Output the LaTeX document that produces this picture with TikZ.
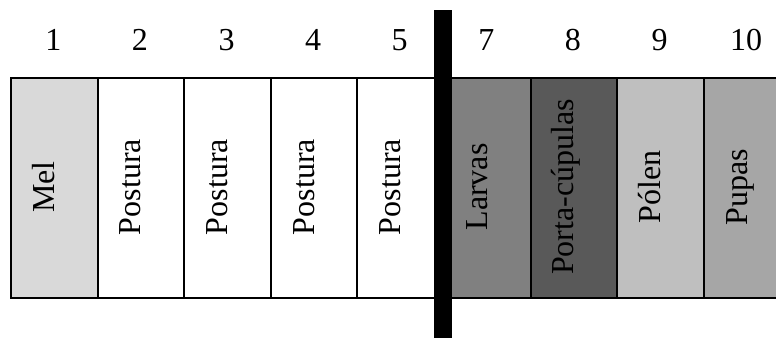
\documentclass[tikz,border=0pt]{standalone}
\usepackage{fontspec}
\setmainfont{Liberation Serif}
\definecolor{melgray}{HTML}{D9D9D9}
\definecolor{larvagray}{HTML}{808080}
\definecolor{portagray}{HTML}{595959}
\definecolor{polengray}{HTML}{BFBFBF}
\definecolor{pupagray}{HTML}{A6A6A6}
\begin{document}
\begin{tikzpicture}[x=0.5pt,y=-0.5pt,
  cell/.style={draw=black,line width=1pt,minimum width=43.3pt,
    minimum height=110pt,inner sep=0pt,anchor=north west},
  word/.style={rotate=90,anchor=base,inner sep=0pt,
    font=\fontsize{16}{19}\selectfont},
  num/.style={anchor=base,inner sep=0pt,font=\fontsize{16}{19}\selectfont},
  divider/.style={fill=black}]
  \useasboundingbox (0,0) rectangle (776,338);
  % frames, one per position
  \foreach \i/\col/\txt/\lab in {0/melgray/Mel/1, 1/white/Postura/2,
      2/white/Postura/3, 3/white/Postura/4, 4/white/Postura/5,
      5/larvagray/Larvas/7, 6/portagray/Porta-cúpulas/8,
      7/polengray/Pólen/9, 8/pupagray/Pupas/10}{
    \node[cell,fill=\col] (c\i) at ({10+86.6*\i},77) {};
    \node[word] (t\i) at ({54.3+86.6*\i},187) {\txt};
    \node[num] (n\i) at ({53.3+86.6*\i},50) {\lab};
  }
  % the thick separator
  \node[divider,inner sep=0pt,minimum width=9pt,minimum height=164pt,
    anchor=north west] (bar) at (434,10) {};
\end{tikzpicture}
\end{document}
